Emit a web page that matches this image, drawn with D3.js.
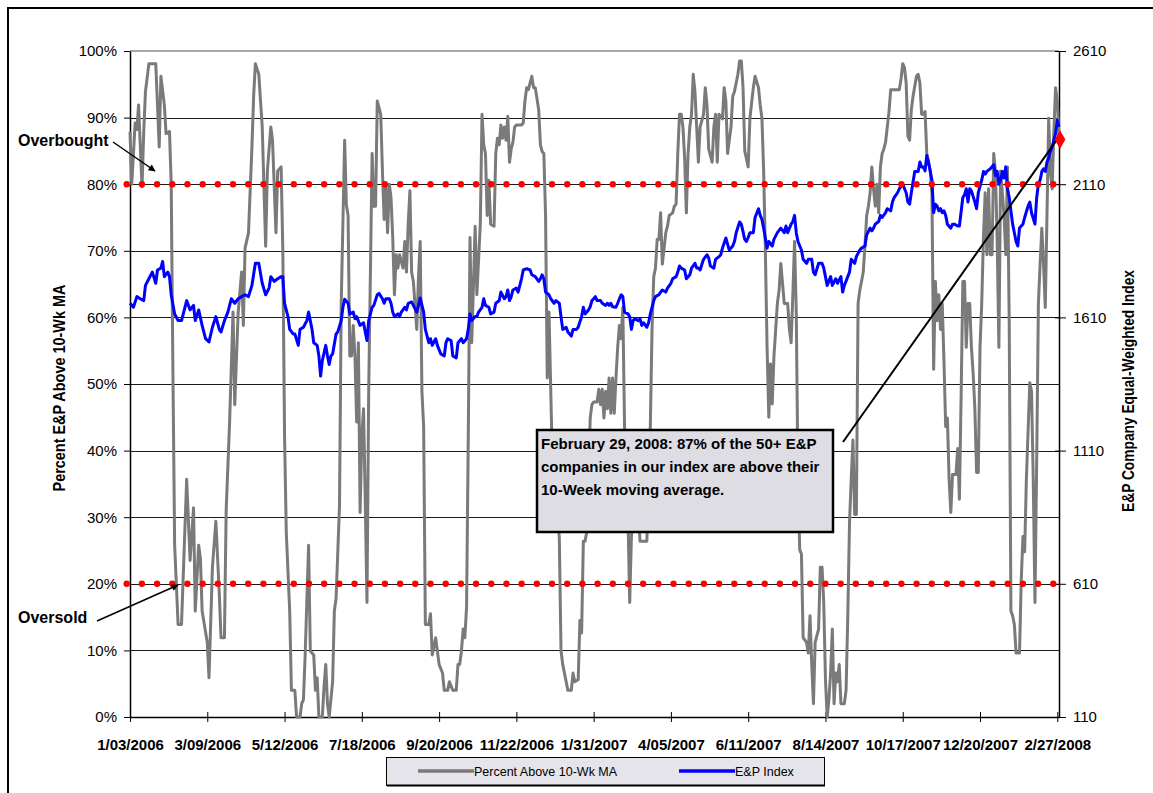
<!DOCTYPE html>
<html>
<head>
<meta charset="utf-8">
<script src="https://cdn.jsdelivr.net/npm/d3@7"></script>
<style>
  html, body { margin: 0; padding: 0; background: #fff; }
  svg { display: block; font-family: "Liberation Sans", Arial, sans-serif; }
</style>
</head>
<body>
<svg id="chart" width="1153" height="793"></svg>
<script>
// ---- data -------------------------------------------------------------
// category axis of trading days, labelled every 45 sessions
const dateLabels = ["1/03/2006","3/09/2006","5/12/2006","7/18/2006","9/20/2006","11/22/2006",
  "1/31/2007","4/05/2007","6/11/2007","8/14/2007","10/17/2007","12/20/2007","2/27/2008"];
const tradingDays = 542;
const labelEvery = 45;
const pctTicks = [0,10,20,30,40,50,60,70,80,90,100];
const indexTicks = [110, 610, 1110, 1610, 2110, 2610];
const thresholds = [80, 20];           // overbought / oversold
const finalReading = [541, 87];        // February 29, 2008

// [trading day, % of E&P names above their 10-week moving average]
const percentAboveMA = [[0,87.9],[1,80],[3,89.2],[4,88.2],[5,91.9],[7,79.6],[8,87.9],[9,93.9],[11,98.1],[15,98.1],[16,91.9],[17,85.6],[18,96.2],[20,91.9],[21,87.6],[23,87.9],[24,80],[25,51.6],[26,25.8],[28,13.9],[30,13.9],[33,35.7],[35,23.5],[37,31.4],[38,15.9],[40,25.8],[41,23.8],[42,15.9],[45,11.2],[46,5.9],[48,22.5],[50,29.4],[52,18.5],[53,11.9],[55,11.9],[56,31],[58,44.3],[60,60.8],[61,46.9],[63,60.8],[65,66.8],[66,58.8],[67,70.4],[69,72.7],[71,85.6],[72,93.2],[73,98.1],[75,96.5],[77,88.6],[79,70.7],[80,82],[82,88.6],[83,86.6],[85,72.7],[86,82],[88,82.6],[89,70],[90,42.3],[91,27.8],[93,15.9],[94,4],[96,4],[97,0],[99,0],[100,2],[101,2.6],[102,9.3],[104,25.8],[105,9.9],[107,9.3],[108,4],[109,5.9],[110,0],[112,0],[113,4.6],[114,7.9],[115,2],[116,0],[118,5.3],[119,15.9],[120,17.8],[122,31.7],[123,62.1],[125,86.6],[126,76.9],[127,75.3],[128,54.2],[129,54.2],[130,58.8],[131,54.2],[132,44.3],[133,56.2],[134,30.7],[135,42.3],[136,46.3],[137,32.4],[138,17.2],[139,48.9],[141,84.6],[142,76.7],[143,76.7],[144,92.5],[146,90.5],[147,82],[148,74.7],[149,80],[150,72.7],[151,80],[152,78],[153,72],[154,63.4],[155,69.4],[156,67.4],[157,69.4],[159,67.4],[160,71.4],[161,66.8],[162,74],[163,79],[164,66.8],[165,65.4],[167,58.2],[168,66.1],[169,71.4],[170,48.9],[171,43.6],[172,13.9],[174,13.9],[175,15.5],[176,9.3],[178,11.9],[179,9.9],[180,7.9],[182,6.6],[183,4],[185,4],[186,5.3],[188,4],[190,4],[191,7.9],[192,7.9],[193,9.9],[194,13.2],[195,11.9],[196,16.5],[197,42.3],[198,72],[199,56.2],[200,64.8],[201,73.7],[202,63.4],[204,74],[205,90.5],[206,85.9],[207,84.6],[208,75.3],[209,80.6],[210,74],[212,73.7],[213,84.6],[214,86.9],[215,85.9],[216,88.9],[217,86.9],[218,88.6],[219,86.6],[220,90.2],[221,83.3],[222,85.3],[223,86.3],[224,88.6],[225,88.9],[228,88.9],[229,89.2],[230,92.5],[231,94.5],[232,94.2],[234,96.2],[235,94.5],[236,94.5],[238,91.2],[239,85.9],[240,84.9],[241,84.6],[242,75.3],[243,50.9],[244,60.8],[246,38],[250,27],[251,9.9],[252,7.9],[254,5.3],[255,4],[257,4],[258,6.6],[259,5.3],[261,5.6],[262,14.5],[263,12.6],[264,26.4],[265,26.4],[266,27.8],[268,44.9],[269,46.9],[270,47.3],[272,47.3],[273,49.2],[274,46.9],[275,49.2],[276,44.9],[277,48.9],[278,46.3],[279,50.9],[280,45.6],[281,50.9],[282,45.6],[283,50.9],[284,55.5],[285,58.8],[286,56.8],[287,61.5],[288,43.6],[290,30],[291,17.2],[292,27.1],[295,36],[297,26.4],[299,26.4],[301,26.4],[302,36],[303,43.6],[304,58.2],[305,66.1],[306,67.4],[307,71.7],[308,71.7],[309,75.7],[310,68],[312,72.7],[313,73.7],[314,75.3],[316,75.7],[317,76.7],[318,77],[319,84.6],[320,90.5],[321,90.5],[322,88.6],[323,83.9],[324,75.7],[325,84.6],[326,88.6],[327,90.5],[328,96.5],[329,93.9],[330,88.6],[331,83.3],[332,88.6],[334,90.5],[335,94.5],[336,91.9],[337,85.3],[339,83.3],[340,88.6],[341,90.5],[342,83.3],[343,90.5],[345,89.8],[346,94.5],[347,92.5],[348,84.6],[350,88.6],[351,93.2],[352,93.9],[354,96.5],[355,98.5],[356,98.5],[357,94.5],[358,85],[360,82.6],[361,89.9],[363,94.5],[364,96.2],[366,94.5],[367,91.9],[368,89.9],[369,82],[370,70],[371,55.5],[372,45],[373,53],[374,47],[375,54.2],[377,62.1],[378,64.1],[379,68.1],[381,62.1],[383,62.1],[384,58.2],[385,56.2],[386,63.4],[387,71.4],[388,60.8],[389,35.7],[390,25.1],[391,24.5],[392,11.9],[394,11.2],[395,9.6],[396,15.2],[397,7.9],[398,2],[399,11.2],[401,13.2],[402,22.5],[403,22.5],[404,17.2],[405,5.6],[406,0],[407,2.6],[408,6.6],[409,13.2],[410,2],[411,6.6],[412,5.3],[413,7.9],[414,2],[416,2],[417,4],[418,15.2],[419,29.1],[420,35.7],[421,41.6],[422,30.4],[423,30.4],[424,62.1],[425,64.1],[426,65.4],[427,66.8],[428,70.7],[429,75.3],[430,76.7],[431,78.7],[432,82.6],[433,79.3],[434,76.7],[435,80],[436,75.7],[437,82.6],[438,84.6],[439,85.3],[440,86.3],[441,88.6],[442,90.9],[443,94.2],[446,94.2],[448,94.2],[449,95.8],[450,98.1],[451,97.5],[452,95.2],[453,87.2],[454,86.6],[455,91.2],[456,93.2],[458,96.2],[459,96.5],[460,95.2],[461,90.5],[462,90.5],[463,90.9],[464,84.6],[465,83.3],[466,82],[467,78.7],[468,52.2],[469,65.4],[470,59.5],[471,63.4],[472,58.2],[473,62.1],[474,53.5],[475,43.6],[476,44.9],[477,35.7],[478,30.7],[479,36.4],[481,36.4],[482,40.3],[483,32.7],[484,48.2],[485,65.4],[486,65.4],[487,55.5],[488,62.1],[489,62.1],[490,55.5],[491,51.6],[492,46.3],[493,36.7],[494,36.7],[495,55.5],[496,62.1],[497,72],[498,78.7],[499,69.4],[500,79.3],[501,69.4],[502,69.4],[503,84.6],[504,82],[505,71.4],[506,55.5],[507,82],[508,78.7],[509,75.3],[510,69.4],[511,82.6],[512,59.5],[513,15.9],[514,15.2],[515,13.9],[516,9.6],[518,9.6],[519,20.5],[520,27.1],[521,24.8],[522,35.7],[524,50.2],[525,48.9],[526,35.7],[527,17.2],[528,38.3],[529,62.1],[530,68],[531,73.4],[532,68],[533,61.5],[534,75.3],[535,89.9],[536,82],[537,79.3],[538,87.9],[539,94.5],[540,92.5],[541,87]];

// [trading day, E&P company equal-weighted index level]
const epIndex = [[0,1663],[2,1648],[4,1688],[6,1680],[8,1673],[9,1730],[11,1755],[13,1780],[15,1738],[16,1788],[18,1795],[19,1820],[20,1763],[22,1780],[23,1763],[24,1695],[26,1623],[28,1598],[30,1598],[32,1648],[33,1673],[35,1638],[37,1655],[38,1598],[40,1638],[42,1580],[44,1530],[46,1518],[48,1573],[50,1613],[52,1565],[53,1555],[55,1598],[57,1630],[59,1680],[61,1663],[63,1680],[65,1688],[67,1695],[69,1688],[71,1730],[73,1813],[75,1813],[77,1738],[79,1695],[81,1720],[82,1763],[84,1745],[86,1755],[88,1763],[89,1763],[90,1663],[92,1613],[93,1565],[95,1548],[96,1548],[98,1505],[99,1565],[101,1573],[103,1598],[104,1630],[106,1565],[107,1515],[109,1505],[110,1465],[111,1390],[112,1448],[114,1505],[115,1465],[116,1433],[117,1465],[118,1473],[120,1548],[121,1555],[123,1598],[124,1648],[125,1678],[127,1663],[128,1623],[130,1630],[131,1605],[132,1613],[134,1580],[136,1590],[137,1555],[138,1523],[139,1598],[141,1648],[142,1655],[144,1695],[145,1700],[147,1680],[148,1663],[149,1680],[151,1680],[152,1663],[153,1630],[154,1613],[156,1623],[157,1613],[158,1630],[160,1648],[161,1638],[162,1663],[164,1668],[165,1655],[167,1630],[168,1655],[169,1683],[171,1630],[172,1565],[174,1515],[175,1530],[176,1505],[178,1530],[179,1505],[181,1473],[183,1465],[184,1515],[185,1530],[187,1523],[188,1465],[190,1458],[191,1515],[193,1530],[194,1515],[196,1530],[197,1565],[198,1623],[199,1598],[201,1613],[202,1613],[203,1630],[205,1648],[206,1680],[207,1655],[209,1648],[210,1623],[212,1630],[213,1663],[215,1673],[216,1705],[218,1680],[219,1688],[220,1713],[221,1673],[222,1688],[223,1713],[225,1720],[226,1705],[228,1755],[229,1788],[231,1793],[233,1788],[234,1770],[236,1763],[238,1745],[239,1755],[240,1770],[241,1755],[242,1705],[244,1695],[245,1680],[247,1663],[248,1673],[250,1663],[251,1613],[252,1565],[254,1573],[255,1555],[257,1540],[258,1565],[260,1565],[261,1573],[263,1613],[264,1648],[265,1623],[267,1638],[268,1650],[269,1673],[270,1680],[271,1688],[272,1673],[274,1673],[275,1663],[277,1655],[278,1663],[279,1655],[280,1663],[281,1650],[283,1648],[284,1663],[285,1680],[286,1695],[287,1688],[288,1630],[290,1623],[291,1613],[292,1565],[293,1598],[294,1605],[296,1598],[297,1605],[298,1580],[299,1590],[301,1573],[302,1590],[303,1623],[304,1648],[305,1673],[306,1688],[308,1695],[309,1705],[310,1713],[312,1705],[313,1720],[315,1738],[316,1755],[318,1763],[319,1780],[320,1803],[321,1795],[323,1788],[324,1755],[326,1770],[327,1795],[329,1813],[330,1795],[331,1795],[332,1788],[334,1828],[336,1845],[337,1833],[338,1803],[340,1795],[341,1828],[343,1838],[344,1845],[345,1870],[347,1908],[348,1885],[349,1863],[351,1878],[352,1895],[353,1928],[355,1968],[356,1960],[358,1903],[359,1895],[360,1910],[361,1928],[363,1928],[364,1985],[366,2018],[367,1993],[368,1978],[369,1945],[371,1870],[372,1895],[374,1878],[375,1903],[377,1928],[379,1945],[381,1928],[382,1953],[383,1928],[385,1960],[386,1970],[387,1993],[388,1928],[389,1895],[391,1863],[392,1828],[394,1813],[395,1828],[397,1828],[398,1780],[399,1770],[401,1813],[403,1813],[404,1795],[405,1763],[406,1730],[408,1763],[409,1730],[411,1755],[412,1738],[414,1763],[415,1705],[416,1730],[418,1763],[419,1780],[420,1828],[422,1813],[423,1838],[425,1863],[426,1870],[428,1878],[429,1920],[431,1945],[432,1935],[433,1945],[434,1960],[436,1970],[437,1993],[438,1985],[440,2003],[441,2018],[443,2010],[444,2043],[445,2060],[447,2078],[448,2093],[450,2110],[452,2078],[453,2043],[454,2035],[455,2078],[456,2118],[457,2158],[459,2158],[460,2193],[461,2175],[462,2175],[463,2160],[464,2218],[465,2193],[466,2160],[467,2125],[468,2003],[469,2035],[470,2028],[471,2010],[472,2018],[473,2003],[474,2010],[475,1993],[476,1960],[478,1945],[479,1960],[480,1960],[482,1953],[483,1953],[485,2060],[486,2070],[487,2093],[488,2043],[489,2093],[490,2085],[492,2043],[493,2018],[494,2078],[496,2125],[497,2158],[498,2148],[499,2158],[501,2168],[503,2183],[504,2143],[505,2158],[506,2110],[507,2125],[508,2158],[509,2133],[510,2175],[511,2093],[512,2060],[514,1960],[515,1928],[516,1895],[517,1878],[518,1945],[519,1953],[520,1960],[521,1985],[523,2028],[524,2043],[525,2003],[527,1960],[528,2060],[529,2110],[530,2125],[531,2158],[532,2168],[533,2158],[534,2193],[535,2208],[536,2233],[537,2250],[538,2275],[539,2300],[540,2350],[541,2325]];

// ---- layout -----------------------------------------------------------
const svg = d3.select("#chart");
const plot = { left: 130, right: 1059, top: 51, bottom: 717 };

const x = d3.scaleLinear().domain([0, tradingDays - 1]).range([plot.left, plot.right]);
const yPct = d3.scaleLinear().domain([0, 100]).range([plot.bottom, plot.top]);
const yIdx = d3.scaleLinear().domain([110, 2610]).range([plot.bottom, plot.top]);

svg.append("rect").attr("width", 1153).attr("height", 793).attr("fill", "#fff");

// outer chart frame
svg.append("path")
  .attr("d", "M8,793 V8 H1153")
  .attr("fill", "none").attr("stroke", "#000").attr("stroke-width", 2);

const defs = svg.append("defs");
defs.append("marker").attr("id", "arrow")
  .attr("viewBox", "0 0 10 10").attr("refX", 9).attr("refY", 5)
  .attr("markerWidth", 9).attr("markerHeight", 7).attr("markerUnits", "userSpaceOnUse")
  .attr("orient", "auto")
  .append("path").attr("d", "M0,0 L10,5 L0,10 z").attr("fill", "#000");

// horizontal gridlines
svg.append("g").selectAll("line")
  .data(pctTicks.filter(d => d > 0 && d < 100))
  .join("line")
  .attr("x1", plot.left).attr("x2", plot.right)
  .attr("y1", d => Math.round(yPct(d)) + 0.5).attr("y2", d => Math.round(yPct(d)) + 0.5)
  .attr("stroke", "#1a1a1a").attr("stroke-width", 1);

// plot top border
svg.append("line")
  .attr("x1", plot.left).attr("x2", plot.right)
  .attr("y1", yPct(100)).attr("y2", yPct(100))
  .attr("stroke", "#8c8c8c").attr("stroke-width", 1.5);

// ---- axes ---------------------------------------------------------------
const leftAxis = svg.append("g")
  .attr("transform", `translate(${plot.left},0)`)
  .call(d3.axisLeft(yPct).tickValues(pctTicks).tickFormat(d => d + "%")
    .tickSize(6).tickSizeOuter(0).tickPadding(7));
leftAxis.selectAll("text").attr("font-size", 15).attr("fill", "#000");

const rightAxis = svg.append("g")
  .attr("transform", `translate(${plot.right},0)`)
  .call(d3.axisRight(yIdx).tickValues(indexTicks).tickFormat(d3.format("d"))
    .tickSize(7).tickSizeOuter(0).tickPadding(7));
rightAxis.selectAll("text").attr("font-size", 15).attr("fill", "#000");
rightAxis.selectAll(".tick line").attr("x1", -4);

const bottomAxis = svg.append("g")
  .attr("transform", `translate(0,${plot.bottom})`)
  .call(d3.axisBottom(x).tickValues(d3.range(0, tradingDays, labelEvery))
    .tickFormat((d, i) => dateLabels[i])
    .tickSize(5).tickSizeOuter(0).tickPadding(17));
bottomAxis.selectAll("text").attr("font-size", 15).attr("font-weight", "bold").attr("fill", "#000");
bottomAxis.selectAll(".tick line").attr("y1", -5);

[leftAxis, rightAxis, bottomAxis].forEach(g => {
  g.attr("font-family", null);
  g.select(".domain").attr("stroke", "#000").attr("stroke-width", 1.5);
  g.selectAll(".tick line").attr("stroke", "#000");
});

// axis titles (condensed bold face)
svg.append("text")
  .attr("transform", "translate(64.5,388) rotate(-90)")
  .attr("text-anchor", "middle").attr("font-size", 17).attr("font-weight", "bold")
  .attr("textLength", 207).attr("lengthAdjust", "spacingAndGlyphs")
  .text("Percent E&P Above 10-Wk MA");
svg.append("text")
  .attr("transform", "translate(1133.5,391) rotate(-90)")
  .attr("text-anchor", "middle").attr("font-size", 16.5).attr("font-weight", "bold")
  .attr("textLength", 242).attr("lengthAdjust", "spacingAndGlyphs")
  .text("E&P Company Equal-Weighted Index");

// ---- series -------------------------------------------------------------
const pctLine = d3.line().x(d => x(d[0])).y(d => yPct(d[1]));
const idxLine = d3.line().x(d => x(d[0])).y(d => yIdx(d[1]));

svg.append("path").datum(percentAboveMA)
  .attr("d", pctLine).attr("fill", "none")
  .attr("stroke", "#7a7a7a").attr("stroke-width", 3).attr("stroke-linejoin", "round");

svg.append("path").datum(epIndex)
  .attr("d", idxLine).attr("fill", "none")
  .attr("stroke", "#0000ff").attr("stroke-width", 3).attr("stroke-linejoin", "round");

// overbought / oversold dotted lines
const dotPitch = 15.19;
svg.append("g").selectAll("line")
  .data(thresholds)
  .join("line")
  .attr("x1", x(0) - 3.3).attr("x2", x(0) - 3.3 + dotPitch * 61 + 0.5)
  .attr("y1", d => yPct(d)).attr("y2", d => yPct(d))
  .attr("stroke", "#ff0000").attr("stroke-width", 6.4)
  .attr("stroke-linecap", "round").attr("stroke-dasharray", `0 ${dotPitch}`);

// ---- annotation ---------------------------------------------------------
svg.append("line")
  .attr("x1", 843).attr("y1", 442)
  .attr("x2", x(finalReading[0]) - 2).attr("y2", yPct(finalReading[1]) + 2)
  .attr("stroke", "#000").attr("stroke-width", 2);

svg.append("path")
  .attr("transform", `translate(${x(finalReading[0]) + 1},${yPct(finalReading[1]) + 2})`)
  .attr("d", d3.symbol(d3.symbolDiamond, 100)())
  .attr("fill", "#ff0000");

svg.append("rect")
  .attr("x", 537).attr("y", 430).attr("width", 296).attr("height", 102)
  .attr("fill", "#dddde3").attr("stroke", "#000").attr("stroke-width", 2.5);

const note = svg.append("text").attr("font-size", 15).attr("font-weight", "bold").attr("fill", "#000");
["February 29, 2008: 87% of the 50+ E&P",
 "companies in our index are above their",
 "10-Week moving average."].forEach((t, i) =>
  note.append("tspan").attr("x", 541).attr("y", 449 + i * 23).text(t));

// overbought / oversold callouts
svg.append("text").attr("x", 18).attr("y", 146)
  .attr("font-size", 16).attr("font-weight", "bold").text("Overbought");
svg.append("line").attr("x1", 113).attr("y1", 142).attr("x2", 155).attr("y2", 171)
  .attr("stroke", "#000").attr("stroke-width", 1.5).attr("marker-end", "url(#arrow)");

svg.append("text").attr("x", 18).attr("y", 623)
  .attr("font-size", 16).attr("font-weight", "bold").text("Oversold");
svg.append("line").attr("x1", 97).attr("y1", 621).attr("x2", 178).attr("y2", 585)
  .attr("stroke", "#000").attr("stroke-width", 1.5).attr("marker-end", "url(#arrow)");

// ---- legend -------------------------------------------------------------
const legend = svg.append("g");
legend.append("rect")
  .attr("x", 386.5).attr("y", 757.5).attr("width", 438).attr("height", 28)
  .attr("fill", "#e4e4ea").attr("stroke", "#000").attr("stroke-width", 1);
legend.append("line").attr("x1", 387).attr("x2", 825).attr("y1", 785.5).attr("y2", 785.5)
  .attr("stroke", "#000").attr("stroke-width", 2);
const legendItems = [
  { label: "Percent Above 10-Wk MA", color: "#7a7a7a", x0: 418 },
  { label: "E&P Index", color: "#0000ff", x0: 679 }
];
legendItems.forEach(it => {
  legend.append("line").attr("x1", it.x0).attr("x2", it.x0 + 56)
    .attr("y1", 771).attr("y2", 771)
    .attr("stroke", it.color).attr("stroke-width", 3.5);
  legend.append("text").attr("x", it.x0 + 56).attr("y", 775.5)
    .attr("font-size", 12.5).text(it.label);
});
</script>
</body>
</html>
